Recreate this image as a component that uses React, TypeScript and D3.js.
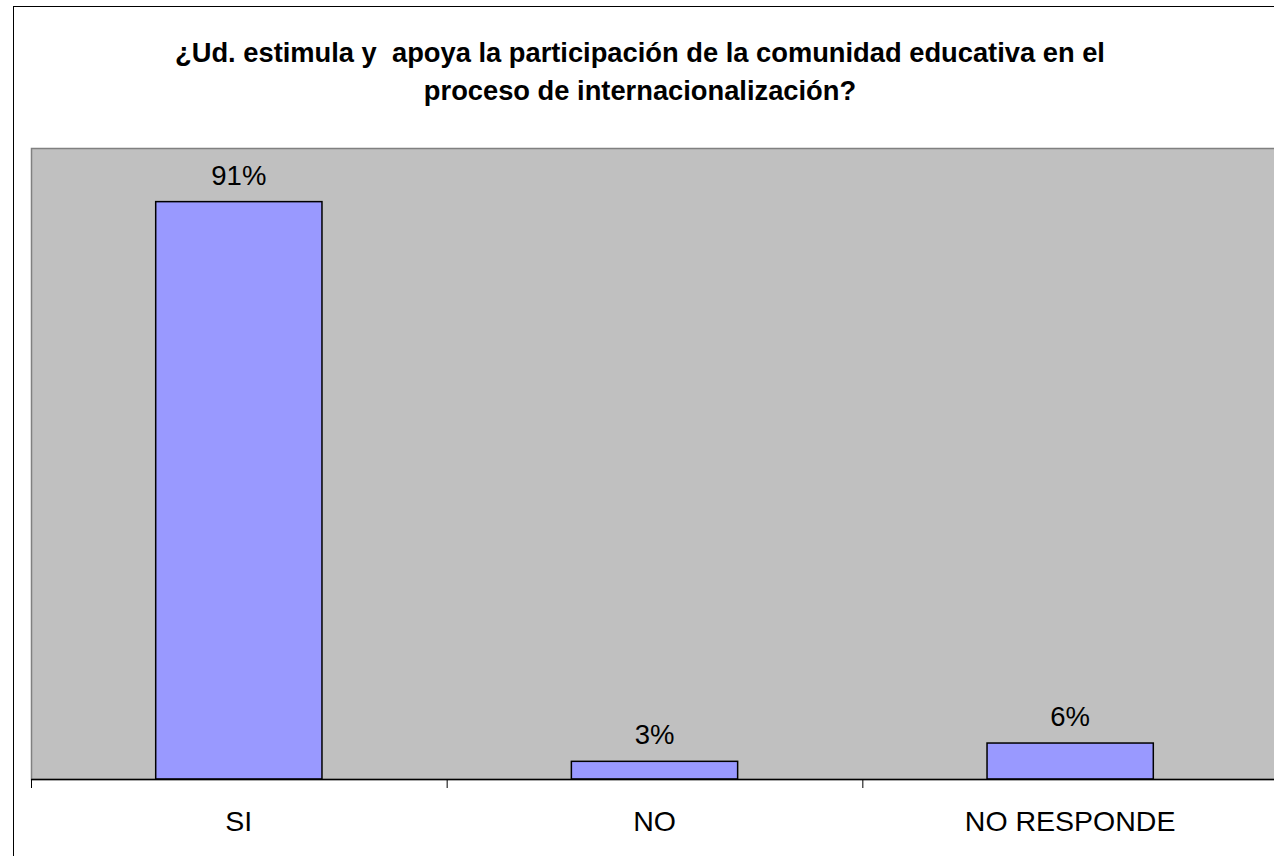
import { useEffect, useRef } from 'react'
import * as d3 from 'd3'

const categories = ['SI', 'NO', 'NO RESPONDE']
const values = [91.5, 2.8, 5.7]
const valueLabels = ['91%', '3%', '6%']
const titleLines = [
  '¿Ud. estimula y  apoya la participación de la comunidad educativa en el',
  'proceso de internacionalización?',
]

const W = 1274
const H = 856
const FONT = '"Liberation Sans", Arial, Helvetica, sans-serif'

export default function App() {
  const svgRef = useRef<SVGSVGElement>(null)

  useEffect(() => {
    if (!svgRef.current) return
    document.body.style.margin = '0'
    const svg = d3.select(svgRef.current)
    svg.selectAll('*').remove()

    const plot = { left: 31, top: 148, right: 1278, bottom: 779 }

    // chart area border (runs off the right/bottom of the picture)
    svg.append('rect')
      .attr('x', 13.5).attr('y', 6.5)
      .attr('width', 1400).attr('height', 1000)
      .attr('fill', '#fff')
      .attr('stroke', '#000')
      .attr('stroke-width', 1)

    // title
    const title = svg.append('text')
      .attr('text-anchor', 'middle')
      .attr('font-family', FONT)
      .attr('font-weight', 'bold')
      .attr('font-size', 27.3)
      .attr('fill', '#000')
      .style('white-space', 'pre')
    titleLines.forEach((line, i) => {
      title.append('tspan')
        .attr('x', 640)
        .attr('y', 62 + i * 38)
        .text(line)
    })

    const x = d3.scaleBand<string>()
      .domain(categories)
      .range([plot.left, plot.right])
      .paddingInner(0.6)
      .paddingOuter(0.3)

    const y = d3.scaleLinear()
      .domain([0, 100])
      .range([plot.bottom, plot.top])

    // plot area
    svg.append('rect')
      .attr('x', plot.left + 0.5).attr('y', plot.top + 0.5)
      .attr('width', plot.right - plot.left).attr('height', plot.bottom - plot.top)
      .attr('fill', '#C0C0C0')
      .attr('stroke', '#808080')
      .attr('stroke-width', 1.5)

    // bars
    svg.append('g')
      .selectAll('rect')
      .data(values)
      .join('rect')
      .attr('x', (_, i) => x(categories[i])!)
      .attr('y', d => y(d))
      .attr('width', x.bandwidth())
      .attr('height', d => y(0) - y(d))
      .attr('fill', '#9999FF')
      .attr('stroke', '#000')
      .attr('stroke-width', 1.5)

    // value labels
    svg.append('g')
      .selectAll('text')
      .data(values)
      .join('text')
      .attr('x', (_, i) => x(categories[i])! + x.bandwidth() / 2)
      .attr('y', d => y(d) - 17)
      .attr('text-anchor', 'middle')
      .attr('font-family', FONT)
      .attr('font-size', 27.5)
      .attr('fill', '#000')
      .text((_, i) => valueLabels[i])

    // x axis
    const step = x.step()
    const edges = d3.range(categories.length + 1).map(i => plot.left + i * step)
    svg.append('line')
      .attr('x1', plot.left).attr('x2', plot.right)
      .attr('y1', plot.bottom + 0.5).attr('y2', plot.bottom + 0.5)
      .attr('stroke', '#000')
      .attr('stroke-width', 1.5)
    svg.append('g')
      .selectAll('line')
      .data(edges)
      .join('line')
      .attr('x1', d => d + 0.5).attr('x2', d => d + 0.5)
      .attr('y1', plot.bottom).attr('y2', plot.bottom + 9)
      .attr('stroke', '#000')
      .attr('stroke-width', 1)

    svg.append('g')
      .selectAll('text')
      .data(categories)
      .join('text')
      .attr('x', d => x(d)! + x.bandwidth() / 2)
      .attr('y', 831)
      .attr('text-anchor', 'middle')
      .attr('font-family', FONT)
      .attr('font-size', 28.5)
      .attr('fill', '#000')
      .text(d => d)
  }, [])

  return (
    <div style={{ position: 'absolute', left: 0, top: 0 }}>
      <svg ref={svgRef} width={W} height={H} style={{ display: 'block', background: '#fff' }} />
    </div>
  )
}
